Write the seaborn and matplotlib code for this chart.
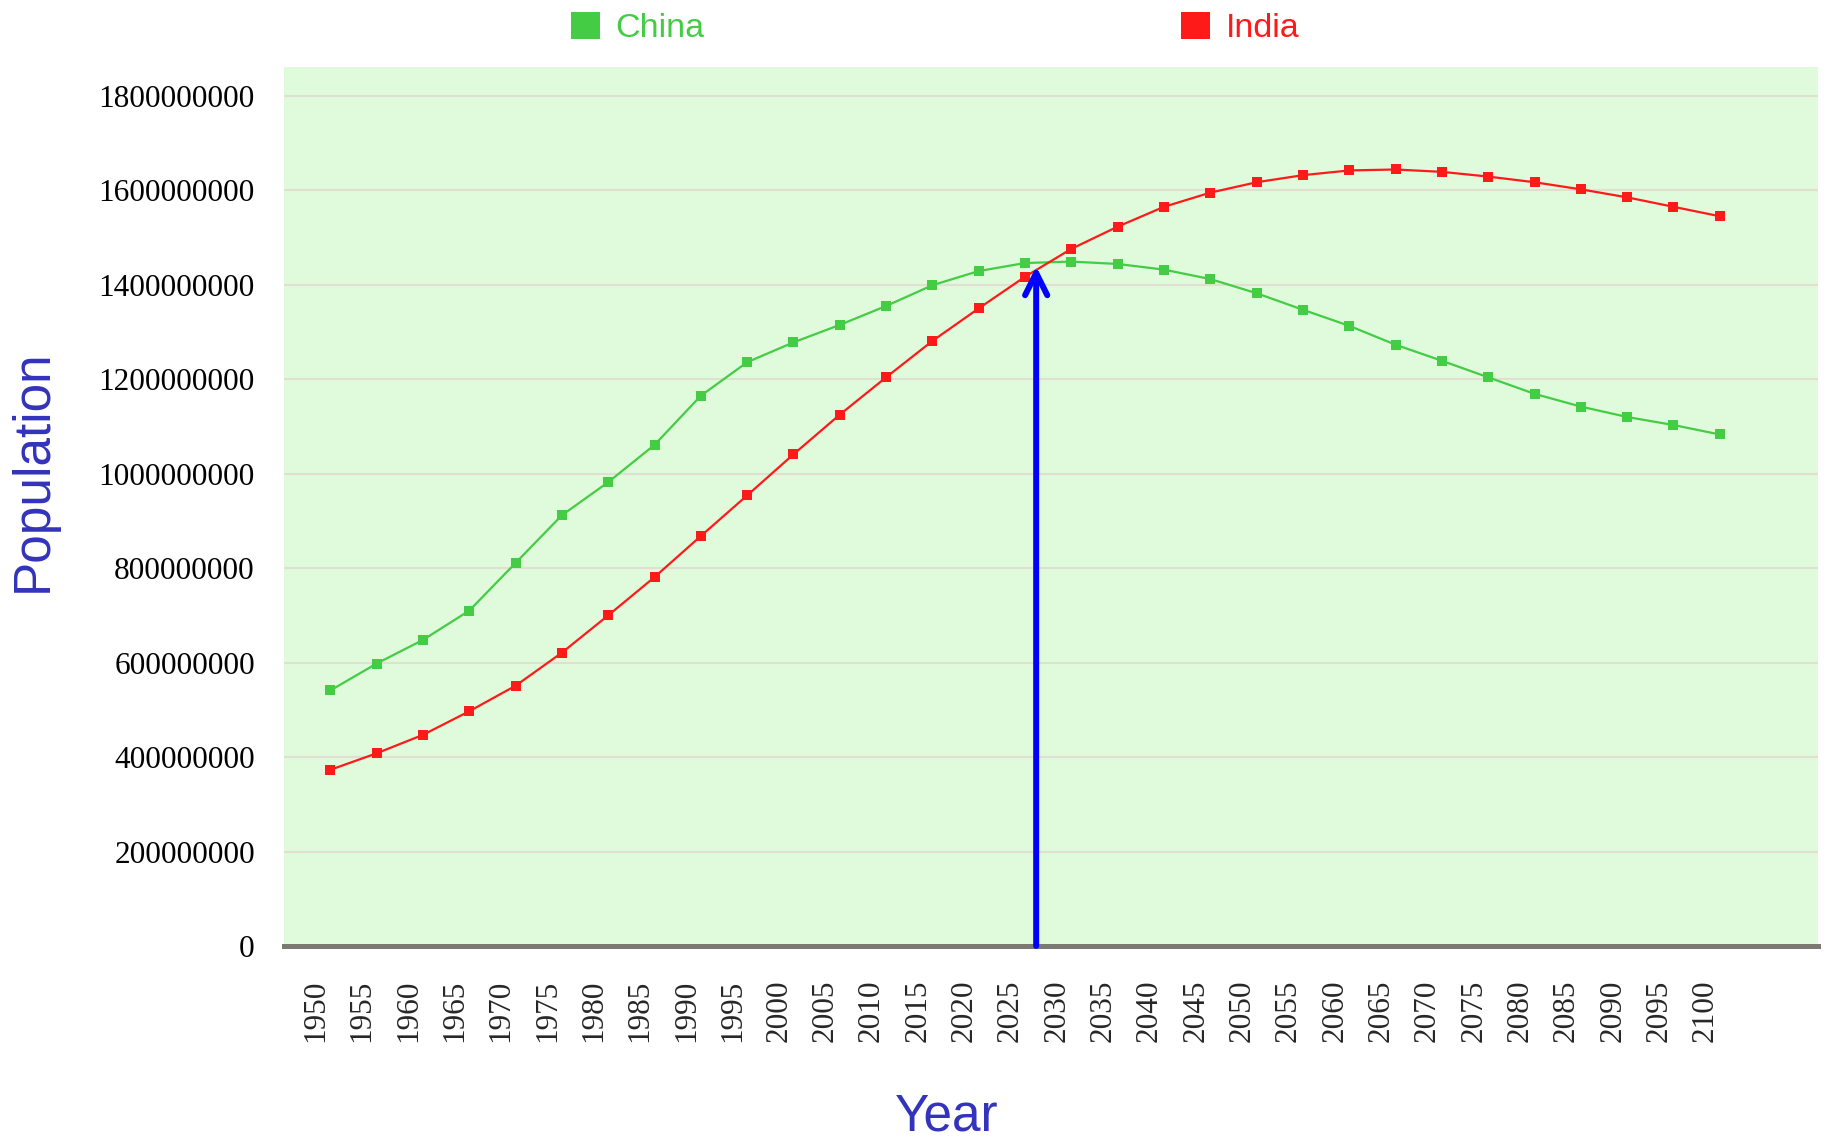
import pandas as pd
import matplotlib
matplotlib.use("Agg")
import matplotlib.pyplot as plt
import seaborn as sns
from matplotlib.patches import Patch
from matplotlib.ticker import FuncFormatter

# Data
years = list(range(1950, 2101, 5))
china = [541, 598, 648, 710, 811, 912, 982, 1061, 1165, 1236, 1278, 1315,
         1355, 1399, 1429, 1446, 1449, 1444, 1432, 1412, 1382, 1347, 1313,
         1273, 1239, 1204, 1169, 1142, 1120, 1103, 1083]
india = [373, 408, 447, 497, 551, 621, 700, 781, 868, 954, 1041, 1125,
         1204, 1281, 1350, 1417, 1476, 1523, 1565, 1595, 1617, 1632, 1642,
         1644, 1639, 1629, 1617, 1602, 1585, 1565, 1545]
countries = ["China", "India"]
colors = {"China": "#44CC44", "India": "#FF1A1A"}
y_ticks = list(range(0, 1800000001, 200000000))
crossover_year = 2026.2
crossover_value = 1439e6

df = pd.DataFrame({
    "year": years * 2,
    "population": [v * 1e6 for v in china + india],
    "country": ["China"] * len(years) + ["India"] * len(years),
})

sns.set_style("white")
plt.rcParams["font.family"] = ["Liberation Sans", "DejaVu Sans"]

fig = plt.figure(figsize=(18.3, 11.43), dpi=100)
ax = fig.add_axes([284 / 1830, 1 - 946 / 1143, (1818 - 284) / 1830, (946 - 67) / 1143])
ax.set_facecolor("#E0FADC")

sns.lineplot(
    data=df, x="year", y="population", hue="country",
    palette=colors, marker="s", markersize=7, markeredgewidth=0,
    linewidth=1.6, legend=False, ax=ax,
)

# Arrow marking where India overtakes China
ax.annotate(
    "", xy=(crossover_year, crossover_value), xytext=(crossover_year, 0),
    arrowprops=dict(arrowstyle="->", color="#0000FF", lw=4.3,
                    mutation_scale=40, shrinkA=0, shrinkB=0),
)

ax.set_xlim(1945, 2110.6)
ax.set_ylim(0, 1861e6)
ax.set_yticks(y_ticks)
ax.yaxis.set_major_formatter(FuncFormatter(lambda v, p: f"{int(v)}"))
ax.set_xticks(years)
ax.set_xticklabels([str(y) for y in years])
ax.grid(axis="y", color="#E0E0D0", linewidth=1.5)
ax.grid(axis="x", visible=False)
ax.set_axisbelow(True)

for side in ["top", "right", "left"]:
    ax.spines[side].set_visible(False)
ax.spines["bottom"].set_color("#7A7A72")
ax.spines["bottom"].set_linewidth(3.6)

ax.tick_params(axis="both", length=0)
ax.tick_params(axis="y", pad=21)
ax.tick_params(axis="x", pad=24)
for lab in ax.get_yticklabels():
    lab.set_fontfamily("Liberation Serif")
    lab.set_fontsize(22.5)
    lab.set_color("black")
for lab in ax.get_xticklabels():
    lab.set_fontfamily("Liberation Serif")
    lab.set_fontsize(22.5)
    lab.set_rotation(90)
    lab.set_ha("right")
    lab.set_va("top")

ax.set_xlabel("")
ax.set_ylabel("")
fig.text(33 / 1830, 1 - 471 / 1143, "Population", rotation=90, fontsize=37,
         color="#3333BB", ha="center", va="center")
fig.text(947 / 1830, 0.001, "Year", fontsize=37, color="#3333BB",
         ha="center", va="bottom")

handles = [Patch(facecolor=colors[c], edgecolor="none", label=c) for c in countries]
leg = fig.legend(
    handles=handles, loc="upper center", bbox_to_anchor=(0.511, 1 - 12 / 1143),
    ncol=2, frameon=False, fontsize=24.5, handlelength=0.85, handleheight=0.85,
    handletextpad=0.47, columnspacing=14, borderpad=0, borderaxespad=0,
)
for t, c in zip(leg.get_texts(), countries):
    t.set_color(colors[c])

fig.savefig("out.png", dpi=100)
